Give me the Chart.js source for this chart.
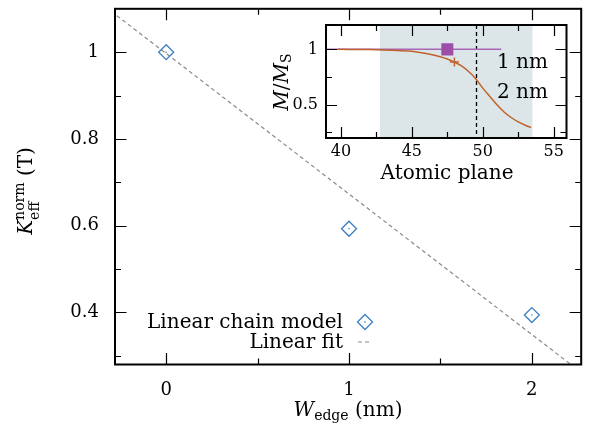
<!DOCTYPE html>
<html>
<head>
<meta charset="utf-8">
<script src="https://cdn.jsdelivr.net/npm/chart.js@4.4.0/dist/chart.umd.min.js"></script>
<style>
  body { margin: 0; background: #fff; }
  #wrap { position: relative; width: 590px; height: 428px; }
  #main { position: absolute; left: 0; top: 0; }
  #inset { position: absolute; left: 260px; top: 15px; }
</style>
</head>
<body>
<div id="wrap">
  <canvas id="main" width="590" height="428"></canvas>
  <canvas id="inset" width="315" height="180"></canvas>
</div>
<script>
// main panel: K_eff^norm vs edge width
const widths = [0, 1, 2];            // W_edge (nm)
const kNorm = [1.0, 0.593, 0.394];   // K_eff^norm (T)
const fitX = [-0.3, 2.3];            // linear fit end points
const fitY = [1.094, 0.252];
const xTicks = [0, 1, 2];
const xMinor = [0.5, 1.5];
const yTicks = [0.4, 0.6, 0.8, 1];
const yMinor = [0.3, 0.5, 0.7, 0.9];

// inset: M/M_S profile across atomic planes
const planes1nm = [38.95, 51.3];
const m1nm = [1, 1];
const planes2nm = [39.8, 42, 43, 44, 45, 46, 47, 47.5, 48, 48.5, 49, 49.5, 50, 50.5, 51, 51.5, 52, 52.5, 53, 53.4];
const m2nm = [1.0, 0.998, 0.995, 0.99, 0.982, 0.962, 0.933, 0.913, 0.885, 0.85, 0.80, 0.735, 0.65, 0.575, 0.5, 0.435, 0.385, 0.345, 0.315, 0.295];
const mark1nm = [47.5, 1.0];
const mark2nm = [48.0, 0.885];
const shadeRange = [42.75, 53.5];
const edgePlane = 49.5;
const insetXTicks = [40, 45, 50, 55];
const insetXMinor = [42.5, 47.5, 52.5];
const insetYTicks = [0.5, 1];
const insetYMinor = [0.25, 0.75];

const SERIF = 'DejaVu Serif';
const BLUE = '#3a7fc3';
const PURPLE = '#9d4ea9';
const ORANGE = '#c0622c';

const toPts = (xs, ys) => xs.map((x, i) => ({ x: x, y: ys[i] }));

// text with sub/superscripts, parts can stack over the previous one
function richText(ctx, parts, x, y, align) {
  const items = [];
  let cx = 0, lastStart = 0, lastW = 0;
  parts.forEach(p => {
    ctx.font = p.font;
    const w = ctx.measureText(p.text).width;
    if (p.stack) {
      items.push(Object.assign({ x: lastStart }, p));
      lastW = Math.max(lastW, w);
      cx = lastStart + lastW;
    } else {
      items.push(Object.assign({ x: cx }, p));
      lastStart = cx; lastW = w; cx += w;
    }
  });
  const off = align === 'center' ? -cx / 2 : (align === 'right' ? -cx : 0);
  ctx.textAlign = 'left';
  ctx.textBaseline = 'alphabetic';
  ctx.fillStyle = '#000';
  items.forEach(it => {
    ctx.font = it.font;
    ctx.fillText(it.text, x + off + it.x, y + (it.dy || 0));
  });
}

// frame with inward ticks on all four sides
const framePlugin = {
  id: 'frame',
  afterDraw(chart, args, o) {
    const { ctx, chartArea: a, scales: { x, y } } = chart;
    ctx.save();
    ctx.strokeStyle = '#000';
    ctx.lineWidth = 1.2;
    ctx.beginPath();
    const vx = (vals, len) => vals.forEach(v => {
      const px = Math.round(x.getPixelForValue(v)) + 0.5;
      ctx.moveTo(px, a.bottom); ctx.lineTo(px, a.bottom - len);
      ctx.moveTo(px, a.top); ctx.lineTo(px, a.top + len);
    });
    const vy = (vals, len) => vals.forEach(v => {
      const py = Math.round(y.getPixelForValue(v)) + 0.5;
      ctx.moveTo(a.left, py); ctx.lineTo(a.left + len, py);
      ctx.moveTo(a.right, py); ctx.lineTo(a.right - len, py);
    });
    vx(o.xMajor, o.major); vx(o.xMinor, o.minor);
    vy(o.yMajor, o.major); vy(o.yMinor, o.minor);
    ctx.stroke();
    ctx.lineWidth = 2;
    ctx.strokeRect(a.left, a.top, a.right - a.left, a.bottom - a.top);
    ctx.restore();
  }
};

const titlePlugin = {
  id: 'titles',
  afterDraw(chart, args, o) {
    const ctx = chart.ctx;
    ctx.save();
    (o.items || []).forEach(t => {
      ctx.save();
      ctx.translate(t.x, t.y);
      if (t.rotate) ctx.rotate(-Math.PI / 2);
      richText(ctx, t.parts, 0, 0, t.align || 'center');
      ctx.restore();
    });
    ctx.restore();
  }
};

// key drawn right-aligned with the sample on the right
const keyPlugin = {
  id: 'key',
  afterDraw(chart, args, o) {
    const ctx = chart.ctx;
    ctx.save();
    ctx.font = '20px "' + SERIF + '"';
    ctx.textAlign = 'right';
    ctx.textBaseline = 'alphabetic';
    chart.data.datasets.filter(d => d.label).forEach((d, i) => {
      const ty = o.y + i * o.step;
      ctx.fillStyle = '#000';
      ctx.fillText(d.label, o.x, ty);
      const cy = ty - 6, sx = o.x + 22;
      ctx.strokeStyle = d.borderColor;
      ctx.lineWidth = d.borderWidth;
      ctx.beginPath();
      if (d.showLine) {
        ctx.setLineDash(d.borderDash || []);
        ctx.moveTo(sx - 7, cy); ctx.lineTo(sx + 5, cy);
        ctx.stroke();
        ctx.setLineDash([]);
      } else {
        const r = d.pointRadius;
        ctx.moveTo(sx, cy - r); ctx.lineTo(sx + r, cy); ctx.lineTo(sx, cy + r); ctx.lineTo(sx - r, cy);
        ctx.closePath();
        ctx.stroke();
        ctx.fillStyle = d.borderColor;
        ctx.beginPath(); ctx.arc(sx, cy, 0.8, 0, Math.PI * 2); ctx.fill();
      }
    });
    ctx.restore();
  }
};

const insetDeco = {
  id: 'insetDeco',
  beforeDatasetsDraw(chart, args, o) {
    const { ctx, chartArea: a, scales: { x } } = chart;
    ctx.save();
    const x0 = x.getPixelForValue(o.shade[0]), x1 = x.getPixelForValue(o.shade[1]);
    ctx.fillStyle = '#dce6e8';
    ctx.fillRect(x0, a.top, x1 - x0, a.bottom - a.top);
    const ex = Math.round(x.getPixelForValue(o.edge)) + 0.5;
    ctx.strokeStyle = '#000';
    ctx.lineWidth = 1.3;
    ctx.setLineDash([4, 3]);
    ctx.beginPath(); ctx.moveTo(ex, a.top); ctx.lineTo(ex, a.bottom); ctx.stroke();
    ctx.restore();
  },
  afterDraw(chart, args, o) {
    const ctx = chart.ctx;
    ctx.save();
    ctx.font = '20px "' + SERIF + '"';
    ctx.fillStyle = '#000';
    ctx.textAlign = 'left';
    ctx.textBaseline = 'alphabetic';
    o.labels.forEach(l => ctx.fillText(l.text, l.x, l.y));
    ctx.restore();
  }
};

const fixTicks = vals => scale => { scale.ticks = vals.map(v => ({ value: v })); };
// fixed scale size, no extra room for overflowing labels
const fixSize = (w, h) => s => {
  if (w != null) s.width = w;
  if (h != null) s.height = h;
  s.paddingTop = s.paddingBottom = s.paddingLeft = s.paddingRight = 0;
};

new Chart(document.getElementById('main'), {
  type: 'scatter',
  data: {
    datasets: [
      {
        label: 'Linear chain model',
        data: toPts(widths, kNorm),
        pointStyle: 'rectRot',
        pointRadius: 7.5,
        borderColor: BLUE,
        backgroundColor: 'rgba(0,0,0,0)',
        borderWidth: 1.3,
        showLine: false
      },
      {
        label: '',
        data: toPts(widths, kNorm),
        pointRadius: 0.8,
        borderWidth: 0,
        backgroundColor: BLUE,
        showLine: false
      },
      {
        label: 'Linear fit',
        data: toPts(fitX, fitY),
        showLine: true,
        borderColor: '#8a8a8a',
        borderWidth: 1.2,
        borderDash: [4, 3],
        pointRadius: 0
      }
    ]
  },
  options: {
    responsive: false,
    animation: false,
    layout: { padding: { top: 7, right: 3, left: 0, bottom: 0 } },
    scales: {
      x: {
        type: 'linear', min: -0.28, max: 2.27,
        afterBuildTicks: fixTicks(xTicks),
        afterFit: fixSize(null, 63.5),
        grid: { display: false, drawTicks: false },
        border: { display: false },
        ticks: { padding: 15, color: '#000', font: { family: SERIF, size: 18 }, callback: v => String(v) }
      },
      y: {
        type: 'linear', min: 0.28, max: 1.1,
        afterBuildTicks: fixTicks(yTicks),
        afterFit: fixSize(115, null),
        grid: { display: false, drawTicks: false },
        border: { display: false },
        ticks: { padding: 16, color: '#000', font: { family: SERIF, size: 18 }, callback: v => String(v) }
      }
    },
    plugins: {
      legend: { display: false },
      tooltip: { enabled: false },
      frame: { xMajor: xTicks, xMinor: xMinor, yMajor: yTicks, yMinor: yMinor, major: 11.5, minor: 6 },
      key: { x: 343, y: 328, step: 20 },
      titles: {
        items: [
          {
            x: 348, y: 416, parts: [
              { text: 'W', font: 'italic 20px "' + SERIF + '"' },
              { text: 'edge', font: '14px "' + SERIF + '"', dy: 4 },
              { text: ' (nm)', font: '20px "' + SERIF + '"' }
            ]
          },
          {
            x: 32, y: 191, rotate: true, parts: [
              { text: 'K', font: 'italic 20px "' + SERIF + '"' },
              { text: 'eff', font: '14px "' + SERIF + '"', dy: 7 },
              { text: 'norm', font: '14px "' + SERIF + '"', dy: -8, stack: true },
              { text: ' (T)', font: '20px "' + SERIF + '"' }
            ]
          }
        ]
      }
    }
  },
  plugins: [framePlugin, keyPlugin, titlePlugin]
});

new Chart(document.getElementById('inset'), {
  type: 'scatter',
  data: {
    datasets: [
      {
        label: '1 nm marker',
        data: [{ x: mark1nm[0], y: mark1nm[1] }],
        pointStyle: 'rect', pointRadius: 8.5,
        backgroundColor: PURPLE, borderColor: PURPLE, borderWidth: 0,
        order: 0
      },
      {
        label: '2 nm marker',
        data: [{ x: mark2nm[0], y: mark2nm[1] }],
        pointStyle: 'cross', pointRadius: 4.5,
        borderColor: ORANGE, borderWidth: 1.5,
        order: 1
      },
      {
        label: '2 nm',
        data: toPts(planes2nm, m2nm),
        showLine: true, pointRadius: 0,
        borderColor: ORANGE, borderWidth: 1.5,
        cubicInterpolationMode: 'monotone',
        order: 2
      },
      {
        label: '1 nm',
        data: toPts(planes1nm, m1nm),
        showLine: true, pointRadius: 0,
        borderColor: '#a866b8', borderWidth: 1.5,
        order: 3
      }
    ]
  },
  options: {
    responsive: false,
    animation: false,
    layout: { padding: { top: 10, right: 6, left: 0, bottom: 0 } },
    scales: {
      x: {
        type: 'linear', min: 38.95, max: 55.9,
        afterBuildTicks: fixTicks(insetXTicks),
        afterFit: fixSize(null, 57),
        grid: { display: false, drawTicks: false },
        border: { display: false },
        ticks: { padding: 4, color: '#000', font: { family: SERIF, size: 16 }, callback: v => String(v) }
      },
      y: {
        type: 'linear', min: 0.2, max: 1.22,
        afterBuildTicks: fixTicks(insetYTicks),
        afterFit: fixSize(66, null),
        grid: { display: false, drawTicks: false },
        border: { display: false },
        ticks: { padding: 8, color: '#000', font: { family: SERIF, size: 16 }, callback: v => String(v) }
      }
    },
    plugins: {
      legend: { display: false },
      tooltip: { enabled: false },
      frame: { xMajor: insetXTicks, xMinor: insetXMinor, yMajor: insetYTicks, yMinor: insetYMinor, major: 11, minor: 6 },
      insetDeco: {
        shade: shadeRange, edge: edgePlane,
        labels: [{ text: '1 nm', x: 237, y: 52.5 }, { text: '2 nm', x: 237, y: 83 }]
      },
      titles: {
        items: [
          {
            x: 187, y: 164, parts: [{ text: 'Atomic plane', font: '20px "' + SERIF + '"' }]
          },
          {
            x: 28, y: 67, rotate: true, parts: [
              { text: 'M', font: 'italic 20px "' + SERIF + '"' },
              { text: '/', font: '20px "' + SERIF + '"' },
              { text: 'M', font: 'italic 20px "' + SERIF + '"' },
              { text: 'S', font: '14px "' + SERIF + '"', dy: 3 }
            ]
          }
        ]
      }
    }
  },
  plugins: [insetDeco, framePlugin, titlePlugin]
});
</script>
</body>
</html>
